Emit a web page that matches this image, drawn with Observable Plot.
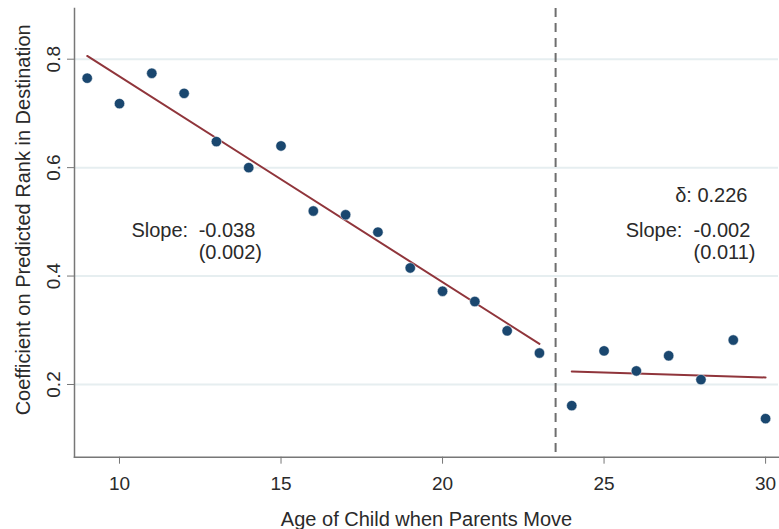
<!DOCTYPE html>
<html>
<head>
<meta charset="utf-8">
<script src="https://cdn.jsdelivr.net/npm/d3@7"></script>
<script src="https://cdn.jsdelivr.net/npm/@observablehq/plot@0.6"></script>
<style>
  html, body { margin: 0; padding: 0; background: #fff; }
  #chart svg { display: block; font-family: "Liberation Sans", Arial, sans-serif; }
</style>
</head>
<body>
<div id="chart"></div>
<script>
// Data
const ages = [9, 10, 11, 12, 13, 14, 15, 16, 17, 18, 19, 20, 21, 22, 23, 24, 25, 26, 27, 28, 29, 30];
const coefs = [0.765, 0.718, 0.774, 0.737, 0.648, 0.600, 0.640, 0.520, 0.513, 0.481, 0.415, 0.372, 0.353, 0.299, 0.258,
               0.161, 0.262, 0.225, 0.253, 0.209, 0.282, 0.137];
const fitLeftAges = [9, 23];
const fitLeftVals = [0.806, 0.275];
const fitRightAges = [24, 30];
const fitRightVals = [0.224, 0.213];
const cutoffAge = [23.5];
const xTicks = [10, 15, 20, 25, 30];
const yTicks = [0.2, 0.4, 0.6, 0.8];
const yTickLabels = ["0.2", "0.4", "0.6", "0.8"];
// left-anchored annotations
const annoTexts = ["Slope:", "-0.038", "(0.002)", "Slope:", "-0.002", "(0.011)"];
const annoX = [10.37, 12.45, 12.45, 25.67, 27.77, 27.77];
const annoY = [0.484, 0.484, 0.443, 0.484, 0.484, 0.443];
// right-anchored annotation
const deltaText = ["\u03b4: 0.226"];
const deltaX = [29.44];
const deltaY = [0.5485];
const xTitle = "Age of Child when Parents Move";
const yTitle = "Coefficient on Predicted Rank in Destination";

const points = ages.map((a, i) => ({age: a, coef: coefs[i]}));
const fitLeft = fitLeftAges.map((a, i) => ({age: a, v: fitLeftVals[i]}));
const fitRight = fitRightAges.map((a, i) => ({age: a, v: fitRightVals[i]}));
const annos = annoTexts.map((t, i) => ({t, x: annoX[i], y: annoY[i]}));
const deltas = deltaText.map((t, i) => ({t, x: deltaX[i], y: deltaY[i]}));
const yLabs = yTicks.map((v, i) => ({v, t: yTickLabels[i]}));

const font = "Liberation Sans, Arial, sans-serif";
const axisGrey = "#777777";
const textCol = "#2a2a2a";

const chart = Plot.plot({
  width: 779,
  height: 529,
  marginLeft: 74,
  marginRight: 1,
  marginTop: 8,
  marginBottom: 72.3,
  style: {fontFamily: font, background: "#fff"},
  x: {domain: [8.607, 30.4]},
  y: {domain: [0.0659, 0.8935]},
  marks: [
    Plot.gridY(yTicks, {stroke: "#e6eef0", strokeOpacity: 1, strokeWidth: 2}),
    Plot.ruleX(cutoffAge, {stroke: "#6e6e6e", strokeWidth: 2, strokeDasharray: "9,6"}),
    Plot.frame({anchor: "left", stroke: axisGrey, strokeWidth: 1.5}),
    Plot.frame({anchor: "bottom", stroke: axisGrey, strokeWidth: 1.5}),
    Plot.axisX(xTicks, {tickSize: 7, tickPadding: 12, fontSize: 19, stroke: axisGrey, fill: textCol, label: null, tickFormat: d => String(d)}),
    Plot.axisY(yTicks, {tickSize: 7, stroke: axisGrey, tickFormat: () => "", label: null}),
    Plot.text(yLabs, {y: "v", text: "t", frameAnchor: "left", dx: -20.7, rotate: -90, textAnchor: "middle", lineAnchor: "middle", fontSize: 19, fill: textCol}),
    Plot.line(fitLeft, {x: "age", y: "v", stroke: "#90353b", strokeWidth: 2}),
    Plot.line(fitRight, {x: "age", y: "v", stroke: "#90353b", strokeWidth: 2}),
    Plot.dot(points, {x: "age", y: "coef", r: 5.2, fill: "#1a476f", stroke: "#ffffff", strokeWidth: 0.5}),
    Plot.text(annos, {x: "x", y: "y", text: "t", textAnchor: "start", lineAnchor: "middle", fontSize: 20, fill: textCol}),
    Plot.text(deltas, {x: "x", y: "y", text: "t", textAnchor: "end", lineAnchor: "middle", fontSize: 20, fill: textCol}),
    Plot.text([xTitle], {frameAnchor: "bottom", text: d => d, dy: 62, lineAnchor: "middle", fontSize: 20, fill: textCol}),
    Plot.text([yTitle], {frameAnchor: "left", text: d => d, dx: -50.5, dy: -13, rotate: -90, lineAnchor: "middle", textAnchor: "middle", fontSize: 20, fill: textCol})
  ]
});
document.getElementById("chart").appendChild(chart);
</script>
</body>
</html>
